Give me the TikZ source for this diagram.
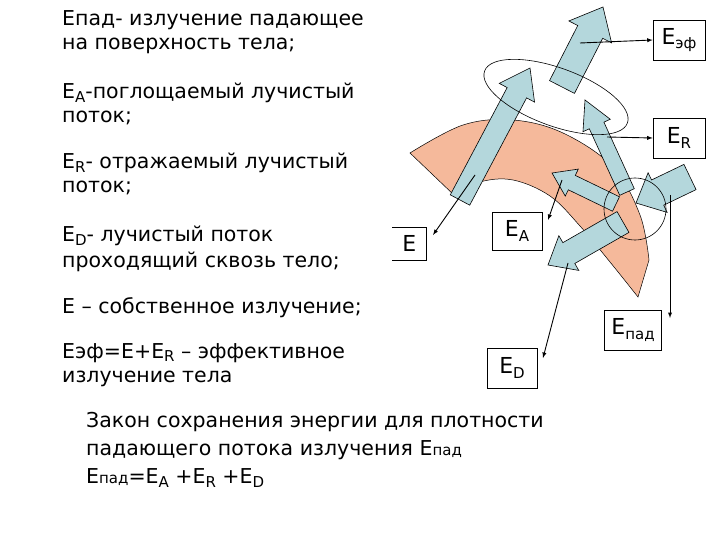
\documentclass[tikz,border=0pt]{standalone}
\usepackage{fontspec}
\setmainfont{DejaVu Sans}
\usetikzlibrary{calc}
\definecolor{band}{RGB}{245,185,155}
\definecolor{arr}{RGB}{180,215,220}
\tikzset{
 fat/.style={draw=black,fill=arr,line width=0.6pt,line join=miter},
 lbl/.style={draw=black,fill=white,line width=0.6pt,font=\fontsize{22}{24}\selectfont,inner sep=0pt},
 thin/.style={-latex,line width=0.9pt},
 txt/.style={anchor=west,font=\fontsize{20.5}{22}\selectfont,inner sep=0pt}
}
\newcommand\fatarr[5]{% from, to, half shaft, half head, head length
 \coordinate (hb) at ($(#2)!#5!(#1)$);
 \path[fat] ($(#1)!#3!90:(#2)$) -- ($(hb)!#3!-90:(#1)$) -- ($(hb)!#4!-90:(#1)$) -- (#2)
  -- ($(hb)!#4!90:(#1)$) -- ($(hb)!#3!90:(#1)$) -- ($(#1)!#3!-90:(#2)$) -- cycle;
}
\begin{document}
\begin{tikzpicture}[x=1pt,y=-1pt]
\useasboundingbox (0,0) rectangle (720,540);
% band
\fill[band,draw=black,line width=0.5pt] plot[smooth,tension=0.6] coordinates {(410,153) (463,125) (513,120) (563,133) (613,167) (640,215) (649,260)}
 -- plot[smooth,tension=0.6] coordinates {(638,297) (610,262) (580,226) (550,196) (513,180) (480,182) (455,196)} -- cycle;
% fat arrows
\coordinate (a1t) at (562,87); \coordinate (a1h) at (603,7);
\coordinate (a2t) at (460,200); \coordinate (a2h) at (530,68);
\coordinate (a3t) at (627,192); \coordinate (a3h) at (585,100);
\coordinate (a4t) at (616,204); \coordinate (a4h) at (552,173);
\coordinate (a5t) at (690,177); \coordinate (a5h) at (636,203);
\coordinate (a6t) at (623,222); \coordinate (a6h) at (548,265);
\fatarr{a2t}{a2h}{11pt}{20pt}{28pt}
\fatarr{a1t}{a1h}{14pt}{24pt}{28pt}
\fatarr{a3t}{a3h}{8pt}{15pt}{28pt}
\fatarr{a4t}{a4h}{8pt}{15pt}{22pt}
\fatarr{a5t}{a5h}{14pt}{22pt}{24pt}
\fatarr{a6t}{a6h}{12pt}{20pt}{24pt}
% ellipses
\draw[line width=0.6pt] (556,97) ellipse[x radius=76,y radius=29,rotate=-20];
\draw[line width=0.6pt] (635,209) circle[radius=31];
% label boxes
\node[lbl,minimum width=52,minimum height=40] (bef) at (679,40) {E\raisebox{-0.35ex}{\fontsize{15}{16}\selectfont эф}};
\node[lbl,minimum width=52,minimum height=40] (bR) at (679,138) {E\raisebox{-0.35ex}{\fontsize{15}{16}\selectfont R}};
\node[lbl,minimum width=50,minimum height=38] (bA) at (517,231) {E\raisebox{-0.35ex}{\fontsize{15}{16}\selectfont A}};
\node[lbl,minimum width=33,minimum height=33,anchor=east,draw=none] (bE) at (426,243) {E};
\draw[line width=0.6pt] (392,227) -- (426,227) -- (426,260) -- (392,260);
\node[lbl,minimum width=57,minimum height=40] (bpad) at (633,330) {E\raisebox{-0.35ex}{\fontsize{15}{16}\selectfont пад}};
\node[lbl,minimum width=50,minimum height=40] (bD) at (512,368) {E\raisebox{-0.35ex}{\fontsize{15}{16}\selectfont D}};
% thin arrows
\coordinate (s1) at (580,43); \coordinate (s2) at (607,137); \coordinate (s3) at (475,175);
\coordinate (s4) at (562,180); \coordinate (s5) at (670,195); \coordinate (s6) at (568,263);
\draw[thin] (s1) -- (bef.west);
\draw[thin] (s2) -- (bR.west);
\draw[thin] (s3) -- (433,235);
\draw[thin] (s4) -- (548,220);
\draw[thin] (s5) -- (670,318);
\draw[thin] (s6) -- (543,358);
% left text
\newcommand\sub[1]{\raisebox{-0.3ex}{\fontsize{15}{15}\selectfont #1}}
\node[txt] (t1) at (62,20) {Епад- излучение падающее};
\node[txt] (t2) at (62,46) {на поверхность тела;};
\node[txt] (t3) at (62,93) {E\sub{A}-поглощаемый лучистый};
\node[txt] (t4) at (62,118) {поток;};
\node[txt] (t5) at (62,163) {E\sub{R}- отражаемый лучистый};
\node[txt] (t6) at (62,188) {поток;};
\node[txt] (t7) at (62,236) {E\sub{D}- лучистый поток};
\node[txt] (t8) at (62,262) {проходящий сквозь тело;};
\node[txt] (t9) at (62,308) {E – собственное излучение;};
\node[txt] (t10) at (62,353) {Eэф=E+E\sub{R} – эффективное};
\node[txt] (t11) at (62,379) {излучение тела};
\node[txt] (t12) at (86,422) {Закон сохранения энергии для плотности};
\node[txt] (t13) at (86,450) {падающего потока излучения E{\fontsize{15}{15}\selectfont пад}};
\node[txt] (t14) at (86,478) {E{\fontsize{15}{15}\selectfont пад}=E\sub{A} +E\sub{R} +E\sub{D}};
\end{tikzpicture}
\end{document}
